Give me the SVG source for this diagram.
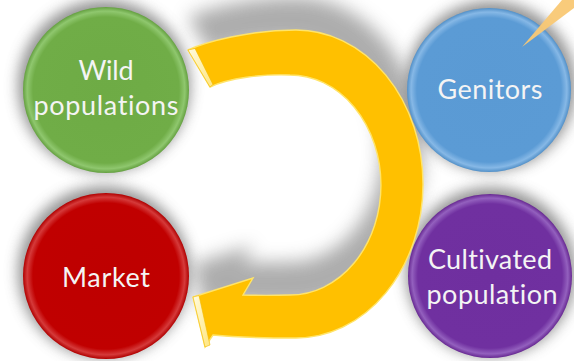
<svg xmlns="http://www.w3.org/2000/svg" width="574" height="361" viewBox="0 0 574 361">
  <defs>
    <style>
      .lbl { font-family: Lato, "Liberation Sans", sans-serif; font-size: 27px; fill: #F4F4F4; text-anchor: middle; font-variant-ligatures: none; font-feature-settings: "liga" 0, "clig" 0; }
      .halo { fill: #6E6E6E; opacity: 0.75; filter: url(#soft); }
    </style>
    <filter id="soft" x="-40%" y="-40%" width="180%" height="180%">
      <feGaussianBlur stdDeviation="7"/>
    </filter>
    <filter id="softBig" x="-30%" y="-30%" width="160%" height="160%">
      <feGaussianBlur stdDeviation="9"/>
    </filter>
    <radialGradient id="gGreen" cx="50%" cy="50%" r="50%">
      <stop offset="0" stop-color="#6EAB45"/>
      <stop offset="0.88" stop-color="#70AD47"/>
      <stop offset="0.95" stop-color="#8FC76E"/>
      <stop offset="1" stop-color="#64A040"/>
    </radialGradient>
    <radialGradient id="gBlue" cx="50%" cy="50%" r="50%">
      <stop offset="0" stop-color="#5A9AD4"/>
      <stop offset="0.88" stop-color="#5B9BD5"/>
      <stop offset="0.95" stop-color="#86B8E6"/>
      <stop offset="1" stop-color="#5290C8"/>
    </radialGradient>
    <radialGradient id="gRed" cx="50%" cy="50%" r="50%">
      <stop offset="0" stop-color="#BE0000"/>
      <stop offset="0.88" stop-color="#C00000"/>
      <stop offset="0.95" stop-color="#D53A3A"/>
      <stop offset="1" stop-color="#B00000"/>
    </radialGradient>
    <radialGradient id="gPurple" cx="50%" cy="50%" r="50%">
      <stop offset="0" stop-color="#6F2F9F"/>
      <stop offset="0.88" stop-color="#7030A0"/>
      <stop offset="0.95" stop-color="#9360BE"/>
      <stop offset="1" stop-color="#672892"/>
    </radialGradient>
    <linearGradient id="face" x1="0" y1="0" x2="1" y2="1">
      <stop offset="0" stop-color="#FFFBE0"/>
      <stop offset="1" stop-color="#FFE680"/>
    </linearGradient>
    <!-- ring-shaped arrow: outer rim, head, inner rim back to the tail -->
    <path id="cycle" d="M188,50 C205,42 250,30 296,30 A127,154 0 0 1 296,338 C262,338 232,337 213,335 L205,347 L193,297 L253,278 L243,295 C258,295.5 274,295.5 290,295 A91,110 0 0 0 290,75 C262,74 229,78 210,87 Z"/>
  </defs>

  <rect width="574" height="361" fill="#FFFFFF"/>

  <!-- soft shadows -->
  <g id="shadows">
    <use href="#cycle" transform="translate(0,-33)" fill="#8A8A8A" opacity="0.7" filter="url(#softBig)"/>
    <circle class="halo" cx="104" cy="86" r="86"/>
    <circle class="halo" cx="491" cy="86" r="85"/>
    <circle class="halo" cx="104" cy="272" r="86"/>
    <circle class="halo" cx="491" cy="272" r="85"/>
  </g>

  <!-- circular flow arrow -->
  <g id="connectors">
    <use href="#cycle" fill="#FFC000" stroke="#FFE46A" stroke-width="1.4"/>
    <polygon points="188,50 195,48.5 213,84.5 210,87" fill="url(#face)" stroke="#F2B800" stroke-width="0.6"/>
    <polygon points="193,297 199,295.5 210,345 205,347" fill="url(#face)" stroke="#F2B800" stroke-width="0.6"/>
  </g>

  <g id="wild">
    <circle cx="106" cy="90" r="83" fill="url(#gGreen)"/>
    <text class="lbl" x="106" y="80" textLength="55">Wild</text>
    <text class="lbl" x="106" y="115" textLength="145">populations</text>
  </g>

  <g id="genitors">
    <circle cx="489" cy="90" r="82" fill="url(#gBlue)"/>
    <text class="lbl" x="490" y="99" textLength="105">Genitors</text>
    <!-- pointer entering from the top right corner -->
    <polygon points="522,47 562,0 574,0 574,8" fill="#F9C874" opacity="0.95"/>
  </g>

  <g id="market">
    <circle cx="106" cy="276" r="83" fill="url(#gRed)"/>
    <text class="lbl" x="106" y="287" textLength="88">Market</text>
  </g>

  <g id="cultivated">
    <circle cx="490" cy="276" r="82" fill="url(#gPurple)"/>
    <text class="lbl" x="490" y="269" textLength="124">Cultivated</text>
    <text class="lbl" x="492" y="304" textLength="131">population</text>
  </g>
</svg>
